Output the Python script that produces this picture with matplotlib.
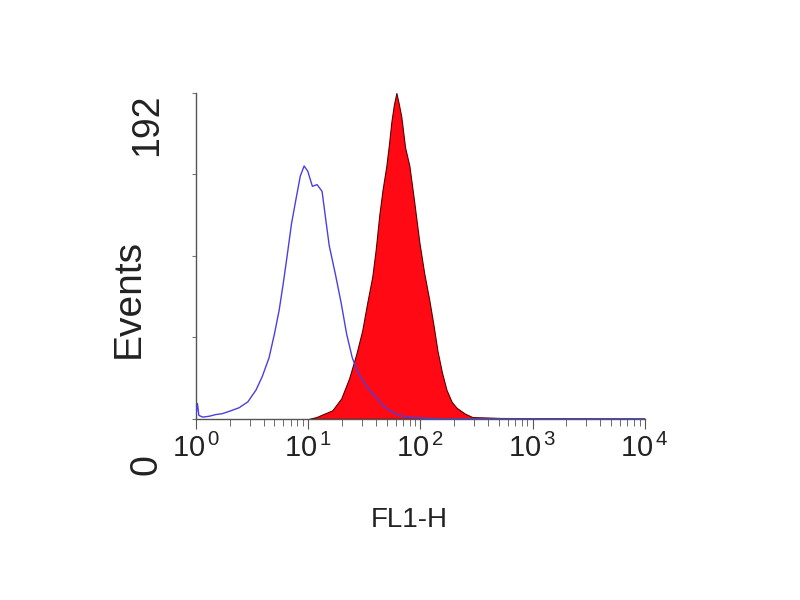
import matplotlib
matplotlib.use("Agg")
import matplotlib.pyplot as plt
from matplotlib.ticker import FixedLocator, LogLocator, NullFormatter

plt.rcParams["font.family"] = ["Liberation Sans", "DejaVu Sans"]
plt.rcParams["mathtext.fontset"] = "custom"
plt.rcParams["mathtext.rm"] = "Liberation Sans"

# isotype control (blue outline)
ctrl_x = [1.0, 1.03, 1.06, 1.15, 1.31, 1.5, 1.71, 2.0, 2.42, 2.9, 3.43, 3.9, 4.48, 5.0, 5.51,
          6.0, 6.49, 7.1, 7.81, 8.5, 9.2, 9.9, 10.9, 12.0, 13.3, 14.3, 15.4, 17.5, 19.7,
          22.0, 24.7, 27.5, 30.3, 35.0, 40.5, 46.0, 52.9, 62.0, 75.0, 98.0, 150.0, 10000.0]
ctrl_y = [2, 9, 2, 1, 1.5, 2.5, 3, 4.5, 6.5, 10, 17, 25, 36, 50, 64,
          80, 96, 115, 130, 143, 149, 146, 137, 138, 134, 118, 102, 85, 68,
          50, 36, 28, 23, 17, 12.5, 8, 5, 2.5, 1, 0.5, 0, 0]

# stained sample (red filled)
stain_x = [10.2, 11.8, 13.9, 16.4, 19.7, 23.2, 26.8, 30.3, 33.5, 37.3, 40.0, 43.0, 46.0, 49.7,
           52.5, 55.1, 58.0, 61.1, 64.0, 67.6, 73.0, 79.8, 88.0, 97.9, 108.0, 120.0, 131.0,
           142.0, 156.0, 171.0, 190.0, 210.0, 250.0, 291.0, 380.0, 508.0, 10000.0]
stain_y = [0, 1, 3, 5, 12, 24, 38, 52, 68, 84, 100, 120, 135, 149,
           162, 175, 185, 192, 186, 178, 160, 149, 128, 104, 86, 70, 55,
           40, 27, 17, 10, 6.5, 3, 1, 0.8, 0.5, 0]

xticks = [1, 10, 100, 1000, 10000]
xticklabels = [r"$\mathregular{10^{\,%d}}$" % i for i in range(5)]

fig = plt.figure(figsize=(8, 6), dpi=100)
ax = fig.add_axes([0.245, 0.302, 0.561, 0.543])

ax.fill_between(stain_x, stain_y, 0, color="#ff0a14", edgecolor="#5a0000", linewidth=0.8, zorder=2)
ax.plot(ctrl_x, ctrl_y, color="#4a3fe0", linewidth=1.0, zorder=3)

ax.set_xscale("log")
ax.set_xlim(1, 10000)
ax.set_ylim(0, 192)

ax.spines["top"].set_visible(False)
ax.spines["right"].set_visible(False)
for s in ["left", "bottom"]:
    ax.spines[s].set_color("#555555")
    ax.spines[s].set_linewidth(1.0)

ax.xaxis.set_major_locator(FixedLocator(xticks))
ax.xaxis.set_minor_locator(LogLocator(base=10, subs=range(2, 10)))
ax.xaxis.set_minor_formatter(NullFormatter())
ax.set_xticklabels(xticklabels, fontsize=21, color="#222222")
ax.tick_params(axis="x", which="major", length=7, color="#555555", pad=4)
ax.tick_params(axis="x", which="minor", length=5, color="#555555")

ax.set_yticks([0, 48, 96, 144, 192])
ax.set_yticklabels([])
ax.tick_params(axis="y", length=3, color="#777777")

# axis labels as in the cytometer output
ax.text(-0.11, 1.0, "192", transform=ax.transAxes, rotation=90, fontsize=27,
        ha="center", va="top", color="#222222")
ax.text(-0.11, -0.14, "0", transform=ax.transAxes, rotation=90, fontsize=27,
        ha="center", va="center", color="#222222")
ax.text(-0.15, 0.37, "Events", transform=ax.transAxes, rotation=90, fontsize=28,
        ha="center", va="center", color="#222222")
ax.text(0.475, -0.31, "FL1-H", transform=ax.transAxes, fontsize=20,
        ha="center", va="center", color="#222222")

fig.savefig("out.png", dpi=100)
